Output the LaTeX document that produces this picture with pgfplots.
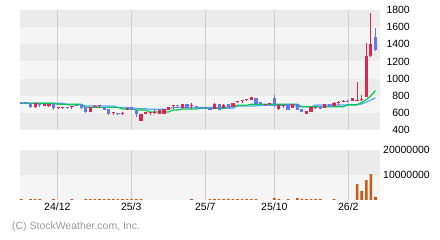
\documentclass[border=0pt]{standalone}
\usepackage{pgfplots}
\usepackage{pgfplotstable}
\pgfplotsset{compat=1.18}
\usepackage{fontspec}
\setmainfont{Liberation Sans}
\definecolor{bandD}{HTML}{EBEBEB}
\definecolor{bandL}{HTML}{F5F5F5}
\definecolor{gridc}{HTML}{D0D0D0}
\definecolor{upc}{HTML}{DC2850}
\definecolor{dnc}{HTML}{6478F0}
\definecolor{maG}{HTML}{00C850}
\definecolor{maB}{HTML}{55AAFF}
\definecolor{volc}{HTML}{C85A14}
\definecolor{copyc}{HTML}{9A9A9A}

\pgfplotstableread{
i o h l c
3 672 712 660 711
5 680 709 678 707
6 688 705 672 703
8 656 664 649 658
9 662 672 649 664
11 676 680 649 678
15 610 673 606 672
16 674 688 664 677
17 680 688 657 684
20 601 606 579 603
22 597 606 571 600
23 636 657 633 655
26 510 588 505 587
27 587 612 585 610
28 603 610 579 606
29 607 633 587 610
30 594 635 590 633
31 594 643 590 641
32 641 674 637 672
33 686 696 649 690
35 664 705 649 703
37 688 711 649 690
42 649 711 645 703
44 657 698 655 696
46 672 720 670 718
47 731 735 711 734
48 738 750 719 741
49 750 766 735 753
50 750 783 748 781
53 696 703 680 699
54 711 718 695 714
56 649 698 633 696
57 690 696 657 693
59 664 705 662 703
62 594 620 590 618
63 618 666 615 664
64 664 672 649 667
66 657 705 655 703
68 680 725 677 718
69 725 742 695 728
70 733 750 727 736
72 742 775 740 773
73 745 960 740 750
74 755 805 742 758
75 789 1411 785 1263
76 1263 1761 1255 1403
}\up

\pgfplotstableread{
i o h l c
0 727 730 699 711
1 727 728 713 715
2 711 712 660 672
4 700 711 672 698
7 703 705 637 657
10 663 672 649 661
12 695 696 679 680
13 700 700 649 657
14 664 665 602 618
18 672 673 638 641
19 649 650 579 594
21 596 599 571 594
24 664 666 638 641
25 633 634 556 587
34 695 696 657 690
36 703 705 655 657
38 680 680 657 678
39 664 665 649 650
40 664 665 650 652
41 657 658 630 633
43 703 705 633 640
45 703 705 655 657
51 773 775 708 711
52 727 728 700 703
55 773 805 672 703
58 703 705 638 641
60 703 705 630 633
61 649 650 607 610
65 680 682 648 649
67 703 705 670 672
71 738 750 727 735
77 1481 1590 1325 1341
}\down

\pgfplotstableread{
i g b
0 711 711
1 711 711
2 711 711
3 711 711
4 711 711
5 711 711
6 711 711
7 711 711
8 700 711
9 700 711
10 700 695
11 700 695
12 700 695
13 700 695
14 664 680
15 664 680
16 664 680
17 664 680
18 664 680
19 664 680
20 664 680
21 664 664
22 645 664
23 645 664
24 645 664
25 633 649
26 633 649
27 633 649
28 610 641
29 610 641
30 610 641
31 610 641
32 610 641
33 633 664
34 633 664
35 645 664
36 645 664
37 645 664
38 645 664
39 653 664
40 653 664
41 653 664
42 653 664
43 653 664
44 653 653
45 672 653
46 672 653
47 688 680
48 688 680
49 688 680
50 700 680
51 700 680
52 700 688
53 700 688
54 700 688
55 700 688
56 700 688
57 700 688
58 700 688
59 700 688
60 700 672
61 672 672
62 672 672
63 672 672
64 672 692
65 672 692
66 672 692
67 672 692
68 672 692
69 672 692
70 672 692
71 695 692
72 695 692
73 695 692
74 720 705
75 755 725
76 800 750
77 860 775
}\ma

\pgfplotstableread{
i v
0 400000
2 400000
3 400000
4 400000
7 400000
11 400000
14 400000
15 400000
16 400000
17 400000
18 400000
19 400000
20 400000
21 400000
22 400000
23 400000
24 400000
25 400000
26 400000
37 400000
41 400000
42 400000
43 400000
44 400000
45 400000
46 400000
47 400000
48 400000
49 400000
50 400000
51 400000
55 800000
56 400000
58 400000
60 800000
61 400000
62 400000
63 400000
64 400000
65 400000
68 400000
73 6400000
74 3700000
75 8000000
76 10400000
77 1300000
}\vol

\begin{document}
\begin{tikzpicture}
\useasboundingbox (0,0) rectangle (440bp,240bp);
\pgfplotsset{
  base/.style={
    scale only axis, width=360bp,
    xmin=-0.283, xmax=77.98,
    axis line style={draw=none},
    major tick length=0pt,
    ticklabel style={font=\fontsize{10.5}{12}\selectfont},
    yticklabel pos=right,
    clip=false,
  }
}
% price panel
\begin{axis}[base, at={(20bp,110bp)}, anchor=south west, height=120bp,
  ymin=400, ymax=1800,
  xtick=\empty,
  ytick={400,600,800,1000,1200,1400,1600,1800},
  yticklabels={400,600,800,1000,1200,1400,1600,1800},
  yticklabel style={inner sep=0pt, anchor=east, xshift=30bp},
]
\fill[bandD] (axis cs:-0.283,1600) rectangle (axis cs:77.98,1800);
\fill[bandL] (axis cs:-0.283,1400) rectangle (axis cs:77.98,1600);
\fill[bandD] (axis cs:-0.283,1200) rectangle (axis cs:77.98,1400);
\fill[bandL] (axis cs:-0.283,1000) rectangle (axis cs:77.98,1200);
\fill[bandD] (axis cs:-0.283,800) rectangle (axis cs:77.98,1000);
\fill[bandL] (axis cs:-0.283,600) rectangle (axis cs:77.98,800);
\fill[bandD] (axis cs:-0.283,400) rectangle (axis cs:77.98,600);
\draw[gridc, line width=1bp] (axis cs:7.83,400) -- (axis cs:7.83,1800);
\draw[gridc, line width=1bp] (axis cs:23.9,400) -- (axis cs:23.9,1800);
\draw[gridc, line width=1bp] (axis cs:40.0,400) -- (axis cs:40.0,1800);
\draw[gridc, line width=1bp] (axis cs:55.0,400) -- (axis cs:55.0,1800);
\draw[gridc, line width=1bp] (axis cs:71.1,400) -- (axis cs:71.1,1800);
\addplot[maB, line width=1.2bp, mark=none] table[x=i, y=b] {\ma};
\addplot[maG, line width=1.2bp, mark=none] table[x=i, y=g] {\ma};
% wicks
\addplot[draw=none, mark=none, error bars/.cd, y dir=plus, y explicit,
  error mark=none, error bar style={upc, line width=1bp}]
  table[x=i, y=l, y error expr={\thisrow{h}-\thisrow{l}}] {\up};
\addplot[draw=none, mark=none, error bars/.cd, y dir=plus, y explicit,
  error mark=none, error bar style={dnc, line width=1bp}]
  table[x=i, y=l, y error expr={\thisrow{h}-\thisrow{l}}] {\down};
% bodies
\addplot[draw=none, mark=none, error bars/.cd, y dir=plus, y explicit,
  error mark=none, error bar style={upc, line width=3.2bp}]
  table[x=i, y expr={\thisrow{o}-4}, y error expr={max(\thisrow{c}-\thisrow{o}+4,11)}] {\up};
\addplot[draw=none, mark=none, error bars/.cd, y dir=plus, y explicit,
  error mark=none, error bar style={dnc, line width=3.2bp}]
  table[x=i, y expr={\thisrow{c}-4}, y error expr={max(\thisrow{o}-\thisrow{c}+4,11)}] {\down};
\end{axis}
% volume panel
\begin{axis}[base, at={(20bp,40bp)}, anchor=south west, height=50bp,
  ymin=0, ymax=20000000,
  xtick={7.83,23.9,40.0,55.0,71.1},
  xticklabels={24/12,25/3,25/7,25/10,26/2},
  xticklabel style={inner sep=0pt, yshift=-3bp},
  ytick={10000000,20000000},
  yticklabels={10000000,20000000},
  yticklabel style={inner sep=0pt, anchor=west, xshift=3bp},
  scaled y ticks=false,
]
\fill[bandD] (axis cs:-0.283,10000000) rectangle (axis cs:77.98,20000000);
\fill[bandL] (axis cs:-0.283,0) rectangle (axis cs:77.98,10000000);
\draw[gridc, line width=1bp] (axis cs:7.83,0) -- (axis cs:7.83,20000000);
\draw[gridc, line width=1bp] (axis cs:23.9,0) -- (axis cs:23.9,20000000);
\draw[gridc, line width=1bp] (axis cs:40.0,0) -- (axis cs:40.0,20000000);
\draw[gridc, line width=1bp] (axis cs:55.0,0) -- (axis cs:55.0,20000000);
\draw[gridc, line width=1bp] (axis cs:71.1,0) -- (axis cs:71.1,20000000);
\addplot[ybar, bar width=2.6bp, fill=volc, draw=none, bar shift=0pt] table[x=i, y=v] {\vol};
\end{axis}
\node[anchor=west, inner sep=0pt, text=copyc, font=\fontsize{10.5}{12}\selectfont] at (12bp,13bp) {(C) StockWeather.com, Inc.};
\end{tikzpicture}
\end{document}
